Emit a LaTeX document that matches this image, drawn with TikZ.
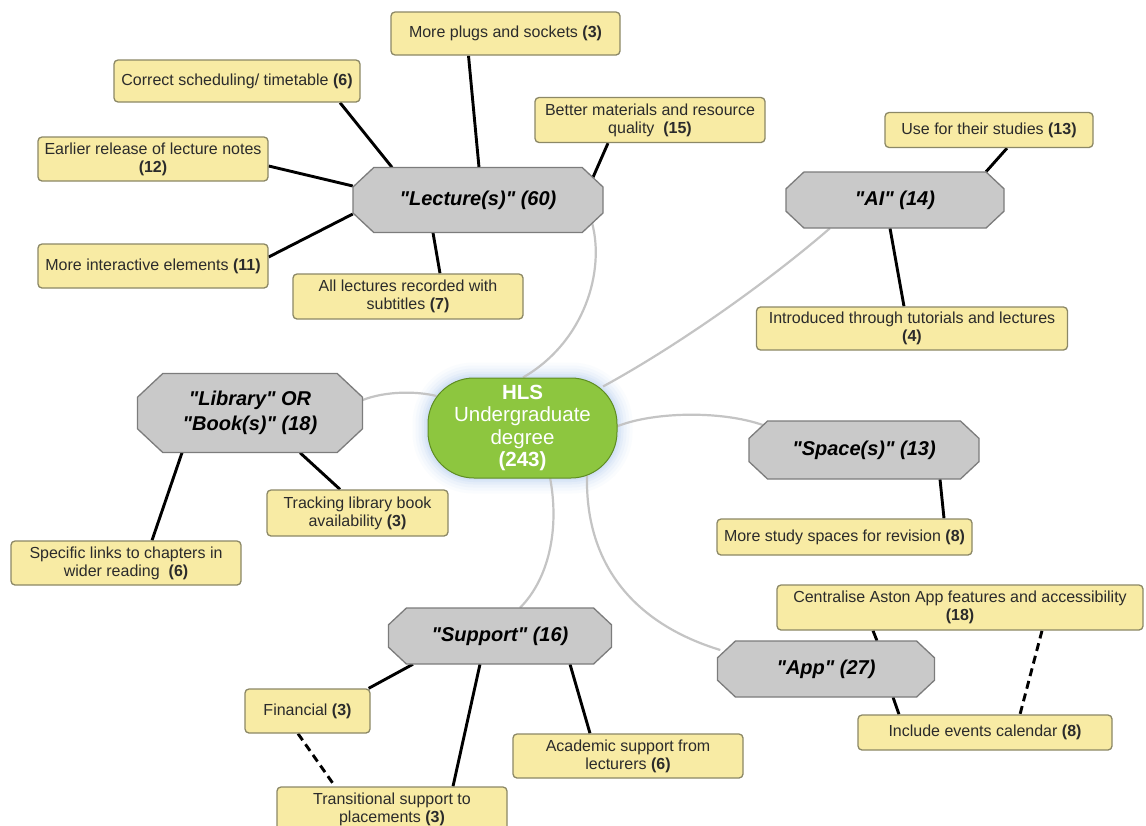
\documentclass[tikz,border=0pt]{standalone}
\usepackage{fontspec}
\setmainfont{Liberation Sans}[Ligatures=TeXOff]
\usetikzlibrary{calc}

\definecolor{boxfill}{HTML}{F8EBA4}
\definecolor{boxedge}{HTML}{8C8866}
\definecolor{octfill}{HTML}{C9C9C9}
\definecolor{octedge}{HTML}{7C7C7C}
\definecolor{hubfill}{HTML}{8DC63F}
\definecolor{hubedge}{HTML}{5E8C22}
\definecolor{glowblue}{HTML}{B4CDF2}
\definecolor{linkgray}{HTML}{C4C4C4}
\definecolor{inktext}{HTML}{2B2B2B}

\pgfdeclarelayer{backdrop}
\pgfdeclarelayer{links}
\pgfsetlayers{backdrop,links,main}

\tikzset{
  ybox/.style={draw=boxedge, line width=1.3pt, fill=boxfill, rounded corners=4pt,
    text=inktext, font=\fontsize{16}{18}\selectfont, align=center, inner sep=0pt},
  octtext/.style={font=\fontsize{20}{24.5}\selectfont\bfseries\itshape, align=center,
    text=black, inner sep=0pt},
  octpath/.style={draw=octedge, line width=1.3pt, fill=octfill},
  hubbox/.style={draw=hubedge, line width=1pt, fill=hubfill, rounded corners=46pt,
    text=white, font=\fontsize{20.5}{22.5}\selectfont, align=center, inner sep=0pt},
  branch/.style={line width=2.9pt, black},
  dashlink/.style={line width=2.9pt, black, dash pattern=on 8pt off 5pt},
  hublink/.style={line width=2.2pt, linkgray},
}

% octagonal topic node: name, centre x, centre y, width, height, label
\newcommand\octbox[6]{%
  \path[octpath]
    (#2-#4/2+0.32*#5, #3-#5/2) -- (#2+#4/2-0.32*#5, #3-#5/2) --
    (#2+#4/2, #3-0.2*#5) -- (#2+#4/2, #3+0.2*#5) --
    (#2+#4/2-0.32*#5, #3+#5/2) -- (#2-#4/2+0.32*#5, #3+#5/2) --
    (#2-#4/2, #3+0.2*#5) -- (#2-#4/2, #3-0.2*#5) -- cycle;
  \node[octtext, minimum width=#4, minimum height=#5] (#1) at (#2,#3) {#6};}

\begin{document}
\begin{tikzpicture}[x=1pt, y=-1pt]
\useasboundingbox (0,0) rectangle (1146,825);
\begin{pgfonlayer}{backdrop}
  \fill[white] (0,0) rectangle (1146,825);
\end{pgfonlayer}

% central node with its soft glow
\node[hubbox, minimum width=189, minimum height=100] (hub) at (522.5,428)
  {\textbf{HLS}\\Undergraduate\\degree\\\textbf{(243)}};
\begin{pgfonlayer}{links}
  \foreach \w/\o in {30/0.06, 24/0.08, 18/0.10, 12/0.14, 7/0.18, 3/0.22}
    \draw[glowblue, line width=\w pt, opacity=\o, rounded corners=46pt]
      (hub.north west) rectangle (hub.south east);
\end{pgfonlayer}

% topic nodes
\octbox{lect}{478}{200}{250}{65}{"Lecture(s)" (60)}
\octbox{ai}{895}{200}{218}{56}{"AI" (14)}
\octbox{lib}{250}{413}{225}{79}{"Library" OR\\"Book(s)" (18)}
\octbox{space}{864}{450}{230}{58}{"Space(s)" (13)}
\octbox{supp}{500}{636}{223}{56}{"Support" (16)}
\octbox{app}{826}{669}{217}{56}{"App" (27)}

% suggestion boxes
\node[ybox, minimum width=229, minimum height=43] (plugs) at (505.5,33.5) {More plugs and sockets \textbf{(3)}};
\node[ybox, minimum width=246, minimum height=42] (sched) at (237,81) {Correct scheduling/ timetable \textbf{(6)}};
\node[ybox, minimum width=230, minimum height=45] (better) at (650,120) {Better materials and resource\\quality\ \ \textbf{(15)}};
\node[ybox, minimum width=230, minimum height=44] (earlier) at (153,159) {Earlier release of lecture notes\\\textbf{(12)}};
\node[ybox, minimum width=230, minimum height=44] (inter) at (153,266) {More interactive elements \textbf{(11)}};
\node[ybox, minimum width=230, minimum height=45] (recorded) at (408,296.5) {All lectures recorded with\\subtitles \textbf{(7)}};
\node[ybox, minimum width=208, minimum height=35] (use) at (989,130) {Use for their studies \textbf{(13)}};
\node[ybox, minimum width=311, minimum height=43] (intro) at (912,328.5) {Introduced through tutorials and lectures\\\textbf{(4)}};
\node[ybox, minimum width=181, minimum height=46] (track) at (357.5,513) {Tracking library book\\availability \textbf{(3)}};
\node[ybox, minimum width=230, minimum height=44] (chapters) at (126,563) {Specific links to chapters in\\wider reading\ \ \textbf{(6)}};
\node[ybox, minimum width=255, minimum height=36] (study) at (844.5,537) {More study spaces for revision \textbf{(8)}};
\node[ybox, minimum width=366, minimum height=45] (central) at (960,607.5) {Centralise Aston App features and accessibility\\\textbf{(18)}};
\node[ybox, minimum width=254, minimum height=35] (events) at (985,732.5) {Include events calendar \textbf{(8)}};
\node[ybox, minimum width=125, minimum height=44] (fin) at (307.5,711) {Financial \textbf{(3)}};
\node[ybox, minimum width=230, minimum height=44] (acad) at (628,756) {Academic support from\\lecturers \textbf{(6)}};
\node[ybox, minimum width=230, minimum height=44] (trans) at (392,809) {Transitional support to\\placements \textbf{(3)}};

\begin{pgfonlayer}{links}
  % grey curves from the centre to each topic
  \draw[hublink] ([shift={(0.5,0)}]hub.north) .. controls +(62,-36) and +(13,48) .. ([shift={(114,-10)}]lect.south);
  \draw[hublink] ([shift={(80.5,9)}]hub.north) .. controls +(77,-42) and +(-60,52) .. ([shift={(-65,0)}]ai.south);
  \draw[hublink] ([shift={(-86,-32)}]hub.center) .. controls +(-20,-5) and +(23,-9) .. ([shift={(0,-13)}]lib.east);
  \draw[hublink] ([shift={(-2,-1)}]hub.east) .. controls +(35,-15) and +(-43,-15) .. ([shift={(14,-25)}]space.west);
  \draw[hublink] ([shift={(27.5,-1)}]hub.south) .. controls +(10,53) and +(28,-28) .. ([shift={(20,0)}]supp.north);
  \draw[hublink] ([shift={(64.5,-3)}]hub.south) .. controls +(-2,93) and +(-82,-25) .. ([shift={(3,-19)}]app.west);

  % black branches from topics to suggestions
  \draw[branch] ([shift={(1,0)}]lect.north) -- ([shift={(-37,0)}]plugs.south);
  \draw[branch] ([shift={(-86,0)}]lect.north) -- ([shift={(103,0)}]sched.south);
  \draw[branch] ([shift={(115,10)}]lect.north) -- ([shift={(-42,0)}]better.south);
  \draw[branch] ([shift={(0,-14)}]lect.west) -- ([shift={(0,7)}]earlier.east);
  \draw[branch] ([shift={(0,14)}]lect.west) -- ([shift={(0,-9)}]inter.east);
  \draw[branch] ([shift={(-45,0)}]lect.south) -- ([shift={(32,0)}]recorded.north);
  \draw[branch] ([shift={(91,0)}]ai.north) -- ([shift={(18,0)}]use.south);
  \draw[branch] ([shift={(-5,0)}]ai.south) -- ([shift={(-8,0)}]intro.north);
  \draw[branch] ([shift={(50,0)}]lib.south) -- ([shift={(-17.5,0)}]track.north);
  \draw[branch] ([shift={(-68,0)}]lib.south) -- ([shift={(26,0)}]chapters.north);
  \draw[branch] ([shift={(76,0)}]space.south) -- ([shift={(99.5,0)}]study.north);
  \draw[branch] ([shift={(51,0)}]app.north) -- ([shift={(-87,0)}]central.south);
  \draw[branch] ([shift={(67,0)}]app.south) -- ([shift={(-86,0)}]events.north);
  \draw[branch] ([shift={(-87,0)}]supp.south) -- ([shift={(-2,0)}]fin.north east);
  \draw[branch] ([shift={(70,0)}]supp.south) -- ([shift={(-38,0)}]acad.north);
  \draw[branch] ([shift={(-20,0)}]supp.south) -- ([shift={(61,0)}]trans.north);

  % dashed cross links
  \draw[dashlink] ([shift={(82,0)}]central.south) -- ([shift={(35,0)}]events.north);
  \draw[dashlink] ([shift={(-9.5,0)}]fin.south) -- ([shift={(-57,0)}]trans.north);
\end{pgfonlayer}
\end{tikzpicture}
\end{document}
